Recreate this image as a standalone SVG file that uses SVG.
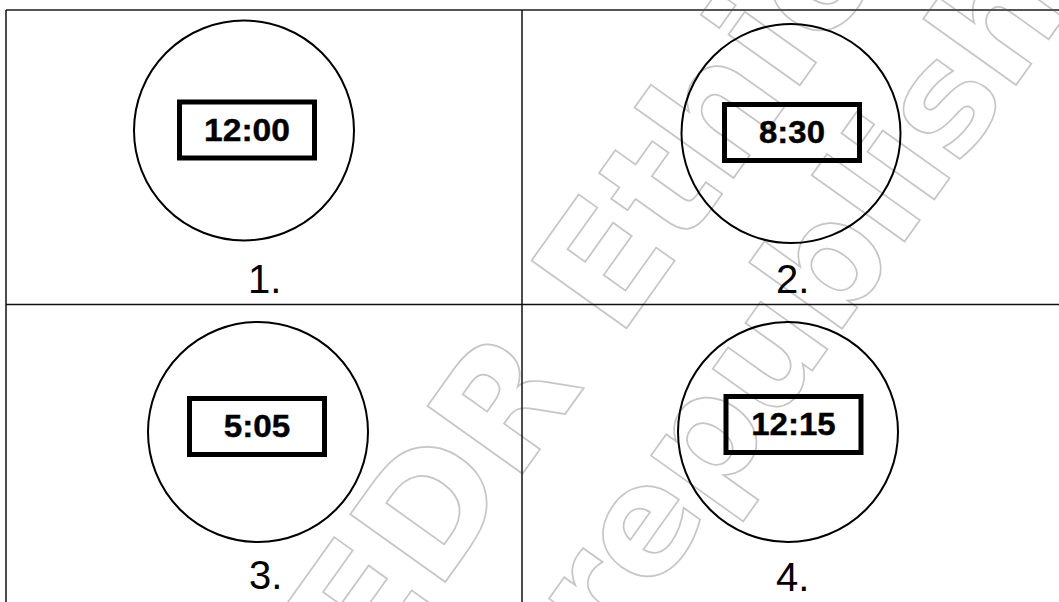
<svg xmlns="http://www.w3.org/2000/svg" width="1059" height="602" viewBox="0 0 1059 602">
<style>
.wm{font-family:"DejaVu Sans",sans-serif;font-weight:bold;fill:none;stroke:#c6c6c6;stroke-width:1.7}
.grid{stroke:#111;stroke-width:1.5;fill:none}
.top{stroke:#555;stroke-width:2.2}
.dial{fill:none;stroke:#000;stroke-width:2}
.box{fill:none;stroke:#000;stroke-width:5}
.time{font-family:"Liberation Sans",Arial,sans-serif;font-weight:bold;font-size:31px;fill:#000;stroke:#000;stroke-width:0.4;text-anchor:middle}
.num{font-family:"Liberation Sans",Arial,sans-serif;font-size:40px;fill:#000}
</style>
<rect width="1059" height="602" fill="#fff"/>
<g id="watermark" transform="translate(373.4,682.9) rotate(-54.5)">
<text class="wm" x="0" y="0" font-size="160">EDR Ethiopia</text>
<text class="wm" x="158" y="176" font-size="150">republish</text>
</g>
<g id="grid">
<line class="grid top" x1="6" y1="10" x2="1059" y2="10"/>
<line class="grid" x1="6" y1="10" x2="6" y2="602"/>
<line class="grid" x1="522" y1="10" x2="522" y2="602"/>
<line class="grid" x1="6" y1="304.5" x2="1059" y2="304.5"/>
</g>
<g id="clock1">
<circle class="dial" cx="244" cy="130.5" r="110"/>
<rect class="box" x="179.5" y="102" width="135" height="56"/>
<text class="time" x="247" y="140.5" textLength="86" lengthAdjust="spacingAndGlyphs">12:00</text>
<text class="num" x="248" y="293">1.</text>
</g>
<g id="clock2">
<circle class="dial" cx="791" cy="133.5" r="109.5"/>
<rect class="box" x="724.5" y="104.5" width="135" height="56"/>
<text class="time" x="792" y="143" textLength="66" lengthAdjust="spacingAndGlyphs">8:30</text>
<text class="num" x="776" y="293">2.</text>
</g>
<g id="clock3">
<circle class="dial" cx="258" cy="432" r="110"/>
<rect class="box" x="189.5" y="398.5" width="135" height="56"/>
<text class="time" x="257" y="437" textLength="66.5" lengthAdjust="spacingAndGlyphs">5:05</text>
<text class="num" x="249" y="589">3.</text>
</g>
<g id="clock4">
<circle class="dial" cx="788" cy="432" r="110"/>
<rect class="box" x="726" y="396.5" width="135" height="56"/>
<text class="time" x="793.5" y="435" textLength="84.5" lengthAdjust="spacingAndGlyphs">12:15</text>
<text class="num" x="776" y="591">4.</text>
</g>
</svg>
